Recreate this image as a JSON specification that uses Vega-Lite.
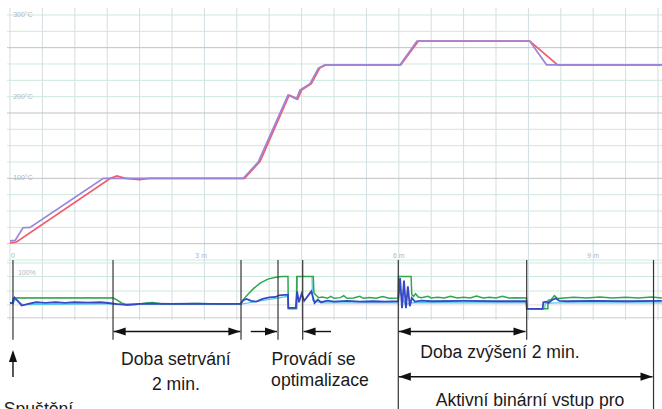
{
  "$schema": "https://vega.github.io/schema/vega-lite/v6.json",
  "width": 662,
  "height": 409,
  "autosize": {"type": "none"},
  "padding": 0,
  "background": "white",
  "config": {"view": {"stroke": null}, "font": "Liberation Sans"},
  "datasets": {
    "temps": [
      {"series": "SP", "t": 0, "v": 21}, {"series": "SP", "t": 0.1, "v": 22}, {"series": "SP", "t": 1.55, "v": 100}, {"series": "SP", "t": 1.65, "v": 103}, {"series": "SP", "t": 1.78, "v": 100}, {"series": "SP", "t": 2.0, "v": 98.5}, {"series": "SP", "t": 2.15, "v": 100}, {"series": "SP", "t": 3.62, "v": 100}, {"series": "SP", "t": 3.86, "v": 121}, {"series": "SP", "t": 4.31, "v": 202}, {"series": "SP", "t": 4.44, "v": 197}, {"series": "SP", "t": 4.5, "v": 208}, {"series": "SP", "t": 4.65, "v": 216}, {"series": "SP", "t": 4.78, "v": 235}, {"series": "SP", "t": 4.88, "v": 239}, {"series": "SP", "t": 6.03, "v": 239}, {"series": "SP", "t": 6.3, "v": 268}, {"series": "SP", "t": 8.02, "v": 268}, {"series": "SP", "t": 8.45, "v": 239}, {"series": "SP", "t": 10.06, "v": 239},
      {"series": "PV", "t": 0, "v": 23.5}, {"series": "PV", "t": 0.08, "v": 24}, {"series": "PV", "t": 0.2, "v": 39.5}, {"series": "PV", "t": 0.31, "v": 40}, {"series": "PV", "t": 1.44, "v": 100}, {"series": "PV", "t": 3.6, "v": 100}, {"series": "PV", "t": 3.83, "v": 120}, {"series": "PV", "t": 4.29, "v": 202}, {"series": "PV", "t": 4.42, "v": 197}, {"series": "PV", "t": 4.475, "v": 208}, {"series": "PV", "t": 4.63, "v": 216}, {"series": "PV", "t": 4.76, "v": 235}, {"series": "PV", "t": 4.86, "v": 239}, {"series": "PV", "t": 6.02, "v": 239}, {"series": "PV", "t": 6.28, "v": 268}, {"series": "PV", "t": 8.02, "v": 268}, {"series": "PV", "t": 8.28, "v": 239}, {"series": "PV", "t": 10.06, "v": 239}
    ],
    "pct": [
      {"series": "green", "t": 0, "v": 20}, {"series": "green", "t": 0.04, "v": 20}, {"series": "green", "t": 0.05, "v": 35}, {"series": "green", "t": 1.59, "v": 35}, {"series": "green", "t": 1.64, "v": 30}, {"series": "green", "t": 1.72, "v": 20}, {"series": "green", "t": 1.8, "v": 14}, {"series": "green", "t": 1.95, "v": 15}, {"series": "green", "t": 2.1, "v": 20}, {"series": "green", "t": 2.2, "v": 21}, {"series": "green", "t": 2.35, "v": 17}, {"series": "green", "t": 2.6, "v": 17}, {"series": "green", "t": 2.9, "v": 18}, {"series": "green", "t": 3.2, "v": 17}, {"series": "green", "t": 3.56, "v": 17}, {"series": "green", "t": 3.6, "v": 30}, {"series": "green", "t": 3.68, "v": 48}, {"series": "green", "t": 3.76, "v": 64}, {"series": "green", "t": 3.86, "v": 80}, {"series": "green", "t": 3.98, "v": 92}, {"series": "green", "t": 4.1, "v": 98}, {"series": "green", "t": 4.2, "v": 100}, {"series": "green", "t": 4.29, "v": 100}, {"series": "green", "t": 4.295, "v": 2}, {"series": "green", "t": 4.42, "v": 2}, {"series": "green", "t": 4.425, "v": 100}, {"series": "green", "t": 4.68, "v": 100}, {"series": "green", "t": 4.69, "v": 50}, {"series": "green", "t": 4.72, "v": 44}, {"series": "green", "t": 4.76, "v": 36}, {"series": "green", "t": 4.82, "v": 38}, {"series": "green", "t": 4.9, "v": 34}, {"series": "green", "t": 4.95, "v": 40}, {"series": "green", "t": 5.0, "v": 34}, {"series": "green", "t": 5.1, "v": 36}, {"series": "green", "t": 5.15, "v": 42}, {"series": "green", "t": 5.2, "v": 34}, {"series": "green", "t": 5.3, "v": 35}, {"series": "green", "t": 5.4, "v": 40}, {"series": "green", "t": 5.45, "v": 34}, {"series": "green", "t": 5.55, "v": 36}, {"series": "green", "t": 5.65, "v": 34}, {"series": "green", "t": 5.75, "v": 39}, {"series": "green", "t": 5.85, "v": 34}, {"series": "green", "t": 5.99, "v": 35}, {"series": "green", "t": 5.995, "v": 100}, {"series": "green", "t": 6.19, "v": 100}, {"series": "green", "t": 6.2, "v": 45}, {"series": "green", "t": 6.23, "v": 40}, {"series": "green", "t": 6.26, "v": 48}, {"series": "green", "t": 6.3, "v": 38}, {"series": "green", "t": 6.35, "v": 36}, {"series": "green", "t": 6.45, "v": 40}, {"series": "green", "t": 6.5, "v": 35}, {"series": "green", "t": 6.6, "v": 37}, {"series": "green", "t": 6.7, "v": 35}, {"series": "green", "t": 6.8, "v": 40}, {"series": "green", "t": 6.9, "v": 35}, {"series": "green", "t": 7.0, "v": 37}, {"series": "green", "t": 7.1, "v": 35}, {"series": "green", "t": 7.2, "v": 41}, {"series": "green", "t": 7.3, "v": 35}, {"series": "green", "t": 7.4, "v": 37}, {"series": "green", "t": 7.5, "v": 35}, {"series": "green", "t": 7.6, "v": 40}, {"series": "green", "t": 7.7, "v": 35}, {"series": "green", "t": 7.8, "v": 36}, {"series": "green", "t": 7.97, "v": 35}, {"series": "green", "t": 7.975, "v": 2}, {"series": "green", "t": 8.3, "v": 2}, {"series": "green", "t": 8.305, "v": 28}, {"series": "green", "t": 8.35, "v": 30}, {"series": "green", "t": 8.4, "v": 42}, {"series": "green", "t": 8.45, "v": 33}, {"series": "green", "t": 8.55, "v": 35}, {"series": "green", "t": 8.7, "v": 37}, {"series": "green", "t": 8.9, "v": 35}, {"series": "green", "t": 9.1, "v": 38}, {"series": "green", "t": 9.3, "v": 35}, {"series": "green", "t": 9.5, "v": 37}, {"series": "green", "t": 9.7, "v": 35}, {"series": "green", "t": 9.9, "v": 38}, {"series": "green", "t": 10.06, "v": 35},
      {"series": "orange", "t": 0.05, "v": 36}, {"series": "orange", "t": 1.59, "v": 36}, {"series": "orange", "t": 1.64, "v": 31}, {"series": "orange", "t": 1.72, "v": 21},
      {"series": "cyan", "t": 0, "v": 18}, {"series": "cyan", "t": 0.05, "v": 18}, {"series": "cyan", "t": 0.08, "v": 30}, {"series": "cyan", "t": 0.2, "v": 15}, {"series": "cyan", "t": 1.59, "v": 17}, {"series": "cyan", "t": 3.56, "v": 16}, {"series": "cyan", "t": 4.29, "v": 40}, {"series": "cyan", "t": 4.295, "v": 5}, {"series": "cyan", "t": 4.43, "v": 5}, {"series": "cyan", "t": 4.435, "v": 100}, {"series": "cyan", "t": 4.66, "v": 100}, {"series": "cyan", "t": 4.67, "v": 28}, {"series": "cyan", "t": 4.8, "v": 20}, {"series": "cyan", "t": 5.99, "v": 20}, {"series": "cyan", "t": 6.0, "v": 60}, {"series": "cyan", "t": 6.1, "v": 15}, {"series": "cyan", "t": 6.2, "v": 21}, {"series": "cyan", "t": 7.97, "v": 20}, {"series": "cyan", "t": 7.975, "v": 2}, {"series": "cyan", "t": 8.25, "v": 2}, {"series": "cyan", "t": 8.26, "v": 18}, {"series": "cyan", "t": 8.4, "v": 20}, {"series": "cyan", "t": 10.06, "v": 20},
      {"series": "blue", "t": 0, "v": 20}, {"series": "blue", "t": 0.04, "v": 20}, {"series": "blue", "t": 0.07, "v": 36}, {"series": "blue", "t": 0.12, "v": 26}, {"series": "blue", "t": 0.18, "v": 12}, {"series": "blue", "t": 0.28, "v": 17}, {"series": "blue", "t": 0.4, "v": 22}, {"series": "blue", "t": 0.55, "v": 20}, {"series": "blue", "t": 0.7, "v": 22}, {"series": "blue", "t": 0.85, "v": 20}, {"series": "blue", "t": 1.0, "v": 22}, {"series": "blue", "t": 1.2, "v": 21}, {"series": "blue", "t": 1.4, "v": 22}, {"series": "blue", "t": 1.55, "v": 19}, {"series": "blue", "t": 1.65, "v": 16}, {"series": "blue", "t": 1.8, "v": 14}, {"series": "blue", "t": 2.0, "v": 17}, {"series": "blue", "t": 2.2, "v": 18}, {"series": "blue", "t": 2.5, "v": 17}, {"series": "blue", "t": 2.8, "v": 18}, {"series": "blue", "t": 3.1, "v": 17}, {"series": "blue", "t": 3.56, "v": 17}, {"series": "blue", "t": 3.6, "v": 28}, {"series": "blue", "t": 3.65, "v": 32}, {"series": "blue", "t": 3.72, "v": 26}, {"series": "blue", "t": 3.8, "v": 24}, {"series": "blue", "t": 3.9, "v": 32}, {"series": "blue", "t": 4.0, "v": 37}, {"series": "blue", "t": 4.1, "v": 38}, {"series": "blue", "t": 4.15, "v": 43}, {"series": "blue", "t": 4.29, "v": 45}, {"series": "blue", "t": 4.295, "v": 5}, {"series": "blue", "t": 4.41, "v": 5}, {"series": "blue", "t": 4.43, "v": 55}, {"series": "blue", "t": 4.46, "v": 22}, {"series": "blue", "t": 4.5, "v": 48}, {"series": "blue", "t": 4.54, "v": 26}, {"series": "blue", "t": 4.6, "v": 42}, {"series": "blue", "t": 4.65, "v": 55}, {"series": "blue", "t": 4.7, "v": 20}, {"series": "blue", "t": 4.75, "v": 30}, {"series": "blue", "t": 4.8, "v": 22}, {"series": "blue", "t": 4.9, "v": 27}, {"series": "blue", "t": 5.0, "v": 24}, {"series": "blue", "t": 5.2, "v": 26}, {"series": "blue", "t": 5.4, "v": 24}, {"series": "blue", "t": 5.6, "v": 25}, {"series": "blue", "t": 5.8, "v": 24}, {"series": "blue", "t": 5.99, "v": 25}, {"series": "blue", "t": 6.02, "v": 95}, {"series": "blue", "t": 6.05, "v": 4}, {"series": "blue", "t": 6.08, "v": 88}, {"series": "blue", "t": 6.11, "v": 4}, {"series": "blue", "t": 6.14, "v": 70}, {"series": "blue", "t": 6.17, "v": 10}, {"series": "blue", "t": 6.2, "v": 35}, {"series": "blue", "t": 6.25, "v": 24}, {"series": "blue", "t": 6.35, "v": 27}, {"series": "blue", "t": 6.5, "v": 25}, {"series": "blue", "t": 7.0, "v": 26}, {"series": "blue", "t": 7.5, "v": 25}, {"series": "blue", "t": 7.97, "v": 25}, {"series": "blue", "t": 7.975, "v": 2}, {"series": "blue", "t": 8.22, "v": 2}, {"series": "blue", "t": 8.23, "v": 22}, {"series": "blue", "t": 8.28, "v": 24}, {"series": "blue", "t": 8.31, "v": 20}, {"series": "blue", "t": 8.36, "v": 28}, {"series": "blue", "t": 8.42, "v": 34}, {"series": "blue", "t": 8.48, "v": 26}, {"series": "blue", "t": 8.6, "v": 25}, {"series": "blue", "t": 9.0, "v": 26}, {"series": "blue", "t": 9.5, "v": 25}, {"series": "blue", "t": 10.06, "v": 26}
    ],
    "vgrid": [
      {"t": 0}, {"t": 0.5}, {"t": 1}, {"t": 1.5}, {"t": 2}, {"t": 2.5}, {"t": 3}, {"t": 3.5}, {"t": 4}, {"t": 4.5}, {"t": 5}, {"t": 5.5}, {"t": 6}, {"t": 6.5}, {"t": 7}, {"t": 7.5}, {"t": 8}, {"t": 8.5}, {"t": 9}, {"t": 9.5}, {"t": 10}
    ],
    "tgrid": [
      {"v": 0, "kind": "minor"}, {"v": 20, "kind": "major"}, {"v": 40, "kind": "minor"}, {"v": 60, "kind": "minor"}, {"v": 80, "kind": "minor"}, {"v": 100, "kind": "major"}, {"v": 120, "kind": "minor"}, {"v": 140, "kind": "minor"}, {"v": 160, "kind": "minor"}, {"v": 180, "kind": "major"}, {"v": 200, "kind": "minor"}, {"v": 220, "kind": "minor"}, {"v": 240, "kind": "minor"}, {"v": 260, "kind": "major"}, {"v": 280, "kind": "minor"}, {"v": 300, "kind": "minor"}
    ],
    "pgrid": [
      {"v": 141, "kind": "minor"}, {"v": 100, "kind": "minor"}, {"v": 56, "kind": "minor"}, {"v": 14, "kind": "faint"}, {"v": -25, "kind": "major"}
    ],
    "tlabels": [
      {"label": "300°C", "t": 0.2, "v": 300}, {"label": "200°C", "t": 0.2, "v": 200}, {"label": "100°C", "t": 0.2, "v": 100}, {"label": "0", "t": 0.046, "v": 5}, {"label": "3 m", "t": 2.95, "v": 5}, {"label": "6 m", "t": 6.0, "v": 5}, {"label": "9 m", "t": 9.0, "v": 5}
    ],
    "plabels": [
      {"label": "100%", "t": 0.26, "v": 112}
    ],
    "markers": [
      {"t": 0.046, "top": 150, "bottom": -92}, {"t": 1.59, "top": 150, "bottom": -92}, {"t": 3.565, "top": 150, "bottom": -92}, {"t": 4.136, "top": 150, "bottom": -92}, {"t": 4.517, "top": 150, "bottom": -92}, {"t": 5.992, "top": 150, "bottom": -320}, {"t": 7.974, "top": 150, "bottom": -92}, {"t": 9.931, "top": 150, "bottom": -320}
    ],
    "spans": [
      {"t1": 1.6, "t2": 3.555, "level": -66.7}, {"t1": 3.715, "t2": 4.12, "level": -66.7}, {"t1": 4.53, "t2": 4.954, "level": -66.7}, {"t1": 6.0, "t2": 7.955, "level": -66.7}, {"t1": 6.0, "t2": 9.915, "level": -203.6}
    ],
    "upshaft": [
      {"t": 0.046, "a": -130, "b": -204.5}
    ],
    "heads": [
      {"t": 1.6, "level": -66.7, "dir": "left"}, {"t": 3.555, "level": -66.7, "dir": "right"}, {"t": 4.12, "level": -66.7, "dir": "right"}, {"t": 4.53, "level": -66.7, "dir": "left"}, {"t": 6.0, "level": -66.7, "dir": "left"}, {"t": 7.955, "level": -66.7, "dir": "right"}, {"t": 6.0, "level": -203.6, "dir": "left"}, {"t": 9.915, "level": -203.6, "dir": "right"}, {"t": 0.046, "level": -122.7, "dir": "up"}
    ],
    "notes": [
      {"text": "Doba setrvání", "t": 2.56, "level": -168.2}, {"text": "2 min.", "t": 2.56, "level": -243.9}, {"text": "Provádí se", "t": 4.684, "level": -168.2}, {"text": "optimalizace", "t": 4.784, "level": -231.8}, {"text": "Doba zvýšení 2 min.", "t": 7.56, "level": -147}, {"text": "Aktivní binární vstup pro", "t": 8.025, "level": -292.4}, {"text": "Spuštění", "t": 0.44, "level": -320}
    ]
  },
  "layer": [
    {
      "layer": [
        {
          "data": {"name": "vgrid"},
          "mark": {"type": "rule", "color": "#d3dee2", "strokeWidth": 1},
          "encoding": {
            "x": {"field": "t", "type": "quantitative", "scale": {"domain": [-0.1543, 10.0617], "nice": false, "zero": false}, "axis": null},
            "y": {"datum": 308.6, "type": "quantitative", "scale": {"domain": [-182.4, 318.35], "nice": false, "zero": false}, "axis": null},
            "y2": {"datum": -73.5}
          }
        },
        {
          "data": {"name": "tgrid"},
          "mark": {"type": "rule", "strokeWidth": 1},
          "encoding": {
            "x": {"datum": -0.046, "type": "quantitative"},
            "x2": {"datum": 10.0617},
            "y": {"field": "v", "type": "quantitative"},
            "color": {"field": "kind", "type": "nominal", "scale": {"domain": ["major", "minor"], "range": ["#c2c2c2", "#cde8de"]}, "legend": null}
          }
        },
        {
          "data": {"name": "temps"},
          "transform": [{"filter": "datum.series === 'SP'"}],
          "mark": {"type": "line", "color": "#f25c6e", "strokeWidth": 1.7},
          "encoding": {
            "x": {"field": "t", "type": "quantitative"},
            "y": {"field": "v", "type": "quantitative"}
          }
        },
        {
          "data": {"name": "temps"},
          "transform": [{"filter": "datum.series === 'PV'"}],
          "mark": {"type": "line", "color": "#9c84d8", "strokeWidth": 1.7},
          "encoding": {
            "x": {"field": "t", "type": "quantitative"},
            "y": {"field": "v", "type": "quantitative"}
          }
        },
        {
          "data": {"name": "tlabels"},
          "mark": {"type": "text", "fontSize": 7, "color": "#b0b6c6", "align": "center", "baseline": "middle"},
          "encoding": {
            "x": {"field": "t", "type": "quantitative"},
            "y": {"field": "v", "type": "quantitative"},
            "text": {"field": "label"}
          }
        }
      ]
    },
    {
      "layer": [
        {
          "data": {"name": "pgrid"},
          "mark": {"type": "rule", "strokeWidth": 1},
          "encoding": {
            "x": {"datum": -0.046, "type": "quantitative"},
            "x2": {"datum": 10.0617},
            "y": {"field": "v", "type": "quantitative", "scale": {"domain": [-301.5, 937.9], "nice": false, "zero": false}, "axis": null},
            "color": {"field": "kind", "type": "nominal", "scale": {"domain": ["major", "minor", "faint"], "range": ["#cccccc", "#cfe8dc", "#e6dbe3"]}, "legend": null}
          }
        },
        {
          "data": {"name": "plabels"},
          "mark": {"type": "text", "fontSize": 7, "color": "#b0b6c6", "align": "center", "baseline": "middle"},
          "encoding": {
            "x": {"field": "t", "type": "quantitative"},
            "y": {"field": "v", "type": "quantitative"},
            "text": {"field": "label"}
          }
        },
        {
          "data": {"name": "pct"},
          "transform": [{"filter": "datum.series === 'orange'"}],
          "mark": {"type": "line", "color": "#e8a640", "strokeWidth": 1},
          "encoding": {"x": {"field": "t", "type": "quantitative"}, "y": {"field": "v", "type": "quantitative"}}
        },
        {
          "data": {"name": "pct"},
          "transform": [{"filter": "datum.series === 'cyan'"}],
          "mark": {"type": "line", "color": "#5cc6e8", "strokeWidth": 1.2},
          "encoding": {"x": {"field": "t", "type": "quantitative"}, "y": {"field": "v", "type": "quantitative"}}
        },
        {
          "data": {"name": "pct"},
          "transform": [{"filter": "datum.series === 'green'"}],
          "mark": {"type": "line", "color": "#2ea84e", "strokeWidth": 1.5},
          "encoding": {"x": {"field": "t", "type": "quantitative"}, "y": {"field": "v", "type": "quantitative"}}
        },
        {
          "data": {"name": "pct"},
          "transform": [{"filter": "datum.series === 'blue'"}],
          "mark": {"type": "line", "color": "#3548c6", "strokeWidth": 1.8},
          "encoding": {"x": {"field": "t", "type": "quantitative"}, "y": {"field": "v", "type": "quantitative"}}
        },
        {
          "data": {"name": "markers"},
          "mark": {"type": "rule", "color": "#333333", "strokeWidth": 1.2},
          "encoding": {
            "x": {"field": "t", "type": "quantitative"},
            "y": {"field": "top", "type": "quantitative"},
            "y2": {"field": "bottom"}
          }
        },
        {
          "data": {"name": "spans"},
          "mark": {"type": "rule", "color": "#111111", "strokeWidth": 1.4},
          "encoding": {
            "x": {"field": "t1", "type": "quantitative"},
            "x2": {"field": "t2"},
            "y": {"field": "level", "type": "quantitative"}
          }
        },
        {
          "data": {"name": "upshaft"},
          "mark": {"type": "rule", "color": "#111111", "strokeWidth": 1.4},
          "encoding": {
            "x": {"field": "t", "type": "quantitative"},
            "y": {"field": "a", "type": "quantitative"},
            "y2": {"field": "b"}
          }
        },
        {
          "data": {"name": "heads"},
          "mark": {"type": "point", "filled": true, "color": "#111111", "opacity": 1, "size": 576, "strokeWidth": 0},
          "encoding": {
            "x": {"field": "t", "type": "quantitative"},
            "y": {"field": "level", "type": "quantitative"},
            "shape": {"field": "dir", "type": "nominal", "scale": {"domain": ["left", "right", "up"], "range": ["M0,0L1,-0.34L1,0.34Z", "M0,0L-1,-0.34L-1,0.34Z", "M0,0L-0.34,1L0.34,1Z"]}, "legend": null}
          }
        },
        {
          "data": {"name": "notes"},
          "mark": {"type": "text", "fontSize": 17.6, "color": "#1a1a1a", "align": "center", "baseline": "alphabetic", "font": "Liberation Sans"},
          "encoding": {
            "x": {"field": "t", "type": "quantitative"},
            "y": {"field": "level", "type": "quantitative"},
            "text": {"field": "text"}
          }
        }
      ]
    }
  ],
  "resolve": {"scale": {"y": "independent", "color": "independent", "shape": "independent"}}
}
